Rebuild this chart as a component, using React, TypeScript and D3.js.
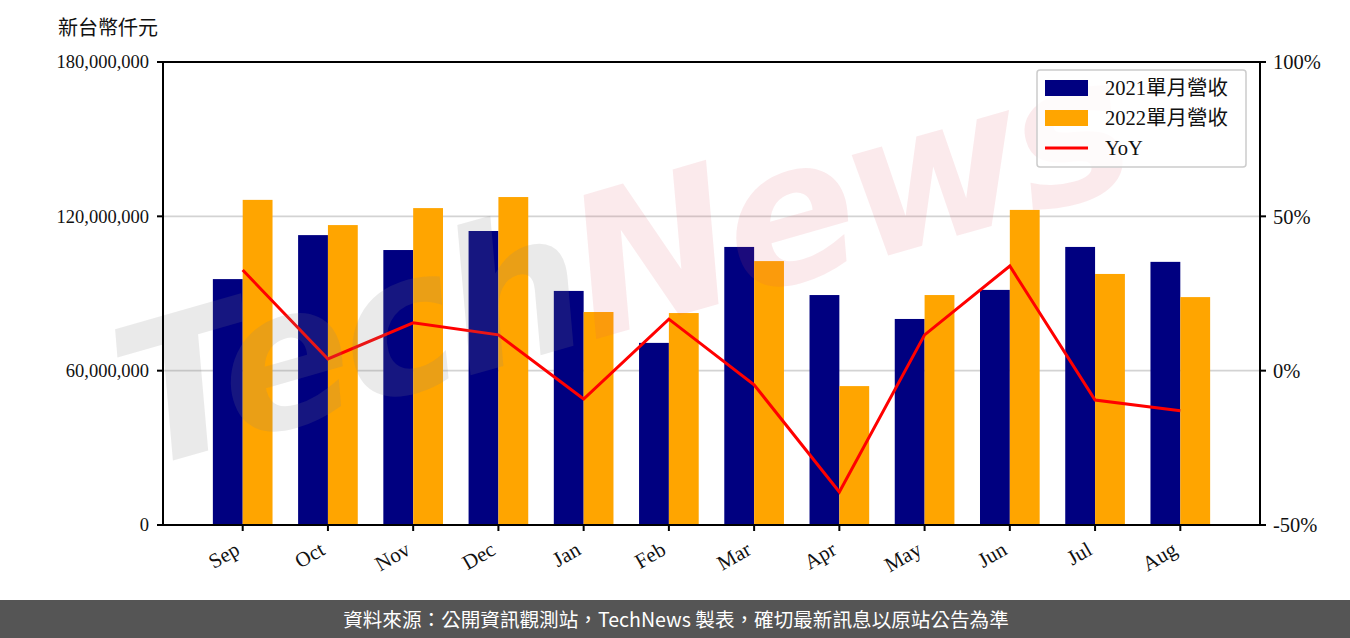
import React from "react";
import * as d3 from "d3";

const months = ["Sep", "Oct", "Nov", "Dec", "Jan", "Feb", "Mar", "Apr", "May", "Jun", "Jul", "Aug"];
const rev2021 = [95600000, 112700000, 106900000, 114300000, 91000000, 70800000, 108100000, 89400000, 80100000, 91400000, 108100000, 102300000];
const rev2022 = [126400000, 116600000, 123200000, 127500000, 82800000, 82400000, 102600000, 54000000, 89400000, 122500000, 97600000, 88600000];
const yoy = [32.6, 3.8, 15.5, 11.6, -9.2, 16.7, -4.6, -39.3, 11.6, 33.9, -9.5, -13.0];
const leftTicks = [0, 60000000, 120000000, 180000000];
const rightTicks = [-50, 0, 50, 100];
const legendLabels = ["2021單月營收", "2022單月營收", "YoY"];

const W = 1350, H = 638;
const L = 163, R = 1260, T = 62, B = 525;
const serif = "'Liberation Serif', 'DejaVu Serif', 'Noto Sans CJK TC', serif";
const cjk = "'Noto Sans CJK TC', 'Noto Sans', sans-serif";

export default function App() {
  const x = d3.scaleLinear().domain([-0.935, 11.935]).range([L, R]);
  const y = d3.scaleLinear().domain([0, 180000000]).range([B, T]);
  const y2 = d3.scaleLinear().domain([-50, 100]).range([B, T]);
  const bw = 0.35;
  const fmt = d3.format(",");
  const line = d3.line<number>().x((_, i) => x(i)).y((d) => y2(d));

  return (
    <svg width={W} height={H} style={{ position: "absolute", left: 0, top: 0, background: "#fff" }}>
      <rect x={0} y={0} width={W} height={H} fill="#fff" />
      <text x={58} y={35} fontFamily={cjk} fontSize={20} fill="#111">新台幣仟元</text>
      {leftTicks.filter((t) => t > 0 && t < 180000000).map((t) => (
        <line key={"g" + t} x1={L} x2={R} y1={y(t)} y2={y(t)} stroke="#d3d3d3" strokeWidth={1.6} />
      ))}
      {months.map((m, i) => (
        <g key={m}>
          <rect x={x(i - bw)} y={y(rev2021[i])} width={x(bw) - x(0)} height={B - y(rev2021[i])} fill="#000080" />
          <rect x={x(i)} y={y(rev2022[i])} width={x(bw) - x(0)} height={B - y(rev2022[i])} fill="#ffa500" />
        </g>
      ))}
      <path d={line(yoy) || ""} fill="none" stroke="#ff0000" strokeWidth={3} strokeLinejoin="miter" />
      {/* watermark */}
      <g transform="translate(140,470) rotate(-16)">
        <text x={0} y={0} fontFamily="'DejaVu Sans', sans-serif" fontStyle="italic" fontWeight="bold" fontSize={195} letterSpacing={-6}>
          <tspan fill="#808080" fillOpacity={0.17}>Tech</tspan>
          <tspan fill="#e05060" fillOpacity={0.12}>News</tspan>
        </text>
      </g>
      {/* frame */}
      <rect x={L} y={T} width={R - L} height={B - T} fill="none" stroke="#000" strokeWidth={2} />
      {leftTicks.map((t) => (
        <g key={"l" + t}>
          <line x1={L - 6} x2={L} y1={y(t)} y2={y(t)} stroke="#000" strokeWidth={2} />
          <text x={L - 14} y={y(t)} dy="0.35em" textAnchor="end" fontFamily={serif} fontSize={18.5} fill="#111">{fmt(t)}</text>
        </g>
      ))}
      {rightTicks.map((t) => (
        <g key={"r" + t}>
          <line x1={R} x2={R + 6} y1={y2(t)} y2={y2(t)} stroke="#000" strokeWidth={2} />
          <text x={R + 13} y={y2(t)} dy="0.35em" textAnchor="start" fontFamily={serif} fontSize={20.5} fill="#111">{t + "%"}</text>
        </g>
      ))}
      {months.map((m, i) => (
        <g key={"t" + m}>
          <line x1={x(i)} x2={x(i)} y1={B} y2={B + 6} stroke="#000" strokeWidth={2} />
          <text transform={`translate(${x(i) - 10},${B + 14}) rotate(-30)`} textAnchor="end" dy="0.8em" fontFamily={serif} fontSize={21} fill="#111">{m}</text>
        </g>
      ))}
      {/* legend */}
      <g>
        <rect x={1037} y={70} width={209} height={97} rx={3} fill="#fff" fillOpacity={0.8} stroke="#cccccc" strokeWidth={1.5} />
        <rect x={1045} y={80} width={43} height={16} fill="#000080" />
        <rect x={1045} y={110} width={43} height={16} fill="#ffa500" />
        <line x1={1045} x2={1088} y1={148} y2={148} stroke="#ff0000" strokeWidth={3} />
        {legendLabels.map((lab, i) => (
          <text key={lab} x={1105} y={88 + i * 30} dy="0.35em" fontFamily={serif} fontSize={20.5} fill="#111">{lab}</text>
        ))}
      </g>
      {/* footer */}
      <rect x={0} y={600} width={W} height={38} fill="#555555" />
      <text x={676} y={620} dy="0.35em" textAnchor="middle" fontFamily={cjk} fontSize={19.6} fill="#fff">資料來源：公開資訊觀測站，TechNews 製表，確切最新訊息以原站公告為準</text>
    </svg>
  );
}
